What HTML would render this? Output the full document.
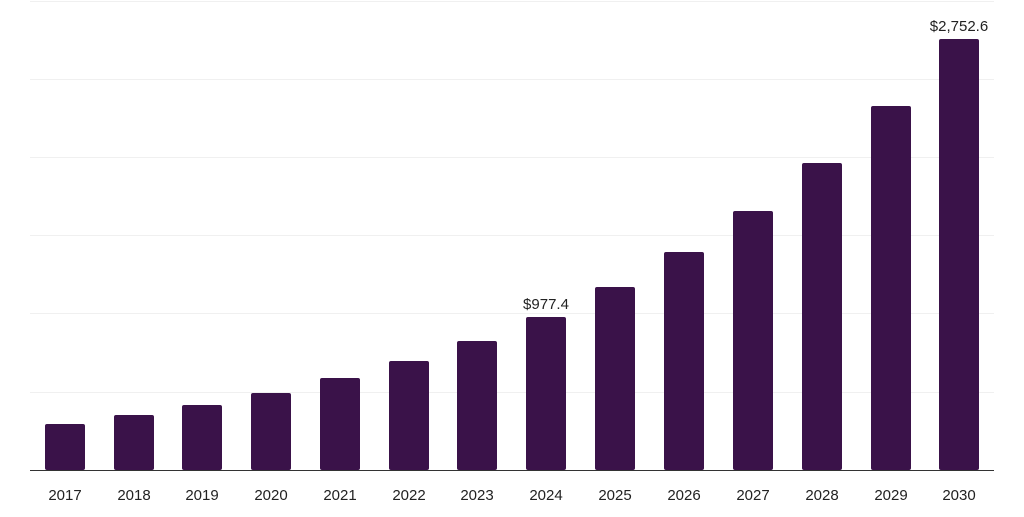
<!DOCTYPE html>
<html><head><meta charset="utf-8"><style>
body{margin:0;background:#fff;}
svg text{font-family:"Liberation Sans",sans-serif;font-size:15px;fill:#222;}
</style></head><body>
<svg width="1024" height="512" xmlns="http://www.w3.org/2000/svg">
<g stroke="#f0f0f0" stroke-width="1">
<line x1="30" x2="994" y1="1.5" y2="1.5"/>
<line x1="30" x2="994" y1="79.5" y2="79.5"/>
<line x1="30" x2="994" y1="157.5" y2="157.5"/>
<line x1="30" x2="994" y1="235.5" y2="235.5"/>
<line x1="30" x2="994" y1="313.5" y2="313.5"/>
<line x1="30" x2="994" y1="392.5" y2="392.5"/>
</g>
<g fill="#3a1249">
<rect x="45" y="424" width="40" height="46" rx="2"/>
<rect x="114" y="415" width="40" height="55" rx="2"/>
<rect x="182" y="405" width="40" height="65" rx="2"/>
<rect x="251" y="393" width="40" height="77" rx="2"/>
<rect x="320" y="378" width="40" height="92" rx="2"/>
<rect x="389" y="361" width="40" height="109" rx="2"/>
<rect x="457" y="341" width="40" height="129" rx="2"/>
<rect x="526" y="317" width="40" height="153" rx="2"/>
<rect x="595" y="287" width="40" height="183" rx="2"/>
<rect x="664" y="252" width="40" height="218" rx="2"/>
<rect x="733" y="211" width="40" height="259" rx="2"/>
<rect x="802" y="163" width="40" height="307" rx="2"/>
<rect x="871" y="106" width="40" height="364" rx="2"/>
<rect x="939" y="39" width="40" height="431" rx="2"/>
</g>
<line x1="30" x2="994" y1="470.5" y2="470.5" stroke="#333" stroke-width="1"/>
<g text-anchor="middle">
<text x="65" y="500">2017</text><text x="134" y="500">2018</text><text x="202" y="500">2019</text>
<text x="271" y="500">2020</text><text x="340" y="500">2021</text><text x="409" y="500">2022</text>
<text x="477" y="500">2023</text><text x="546" y="500">2024</text><text x="615" y="500">2025</text>
<text x="684" y="500">2026</text><text x="753" y="500">2027</text><text x="822" y="500">2028</text>
<text x="891" y="500">2029</text><text x="959" y="500">2030</text>
<text x="546" y="309">$977.4</text>
<text x="959" y="31">$2,752.6</text>
</g>
</svg>
</body></html>
